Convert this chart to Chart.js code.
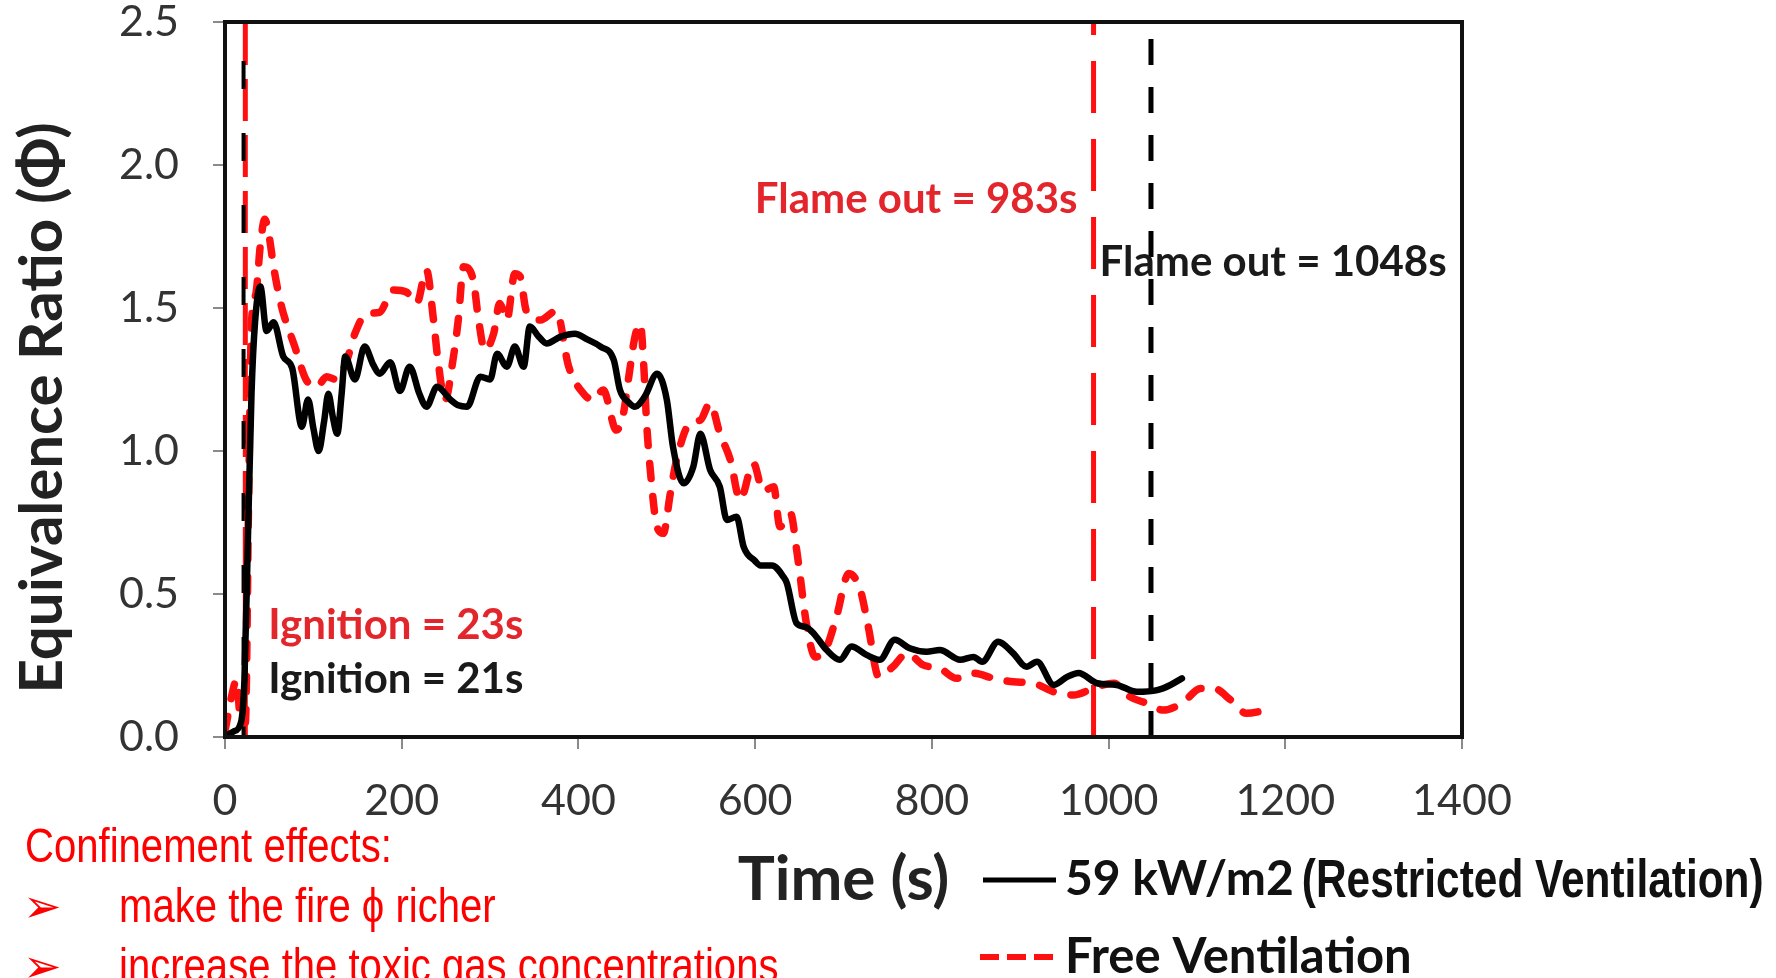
<!DOCTYPE html>
<html>
<head>
<meta charset="utf-8">
<script src="https://cdn.jsdelivr.net/npm/chart.js@4.4.1/dist/chart.umd.min.js"></script>
<style>
html,body{margin:0;padding:0;background:#fff;overflow:hidden}
#wrap{position:relative;width:1776px;height:978px;overflow:hidden}
#c{position:absolute;left:0;top:0}
.note{position:absolute;color:#ff0000;font-family:"Liberation Sans",Arial,sans-serif;font-size:48px;line-height:48px;white-space:nowrap;transform:scaleX(0.835);transform-origin:0 0}
.arrow{position:absolute;color:#ff0000;font-family:"DejaVu Sans",sans-serif;font-size:46px;line-height:46px}
</style>
</head>
<body>
<div id="wrap">
<canvas id="c" width="1776" height="978"></canvas>
<div class="note" style="left:25px;top:822px">Confinement effects:</div>
<div class="arrow" style="left:23px;top:883px">➢</div>
<div class="note" style="left:119px;top:882px">make the fire ϕ richer</div>
<div class="arrow" style="left:23px;top:943px">➢</div>
<div class="note" style="left:119px;top:942px">increase the toxic gas concentrations</div>
</div>
<script>
// ---- data ----
const restrictedTime = [0,10,18,22,26,30,34,40,47,55,66,76,87,94,100,106,112,117,122,127,132,136,147,158,168,175,187,198,209,220,228,240,255,264,274,289,300,308,319,328,338,345,355,364,380,396,410,425,440,447,457,464,475,489,500,507,519,530,538,549,560,568,579,587,600,606,619,632,636,647,657,666,681,696,709,726,741,758,775,794,809,832,847,857,875,892,907,919,938,953,966,987,1009,1032,1055,1070,1083];
const restrictedPhi  = [0,0.02,0.05,0.2,0.7,1.2,1.45,1.575,1.42,1.45,1.33,1.29,1.085,1.18,1.08,1.0,1.1,1.2,1.12,1.06,1.2,1.33,1.25,1.365,1.3,1.27,1.31,1.21,1.295,1.2,1.155,1.225,1.18,1.16,1.155,1.26,1.25,1.34,1.295,1.365,1.295,1.435,1.40,1.376,1.40,1.41,1.39,1.365,1.318,1.213,1.17,1.155,1.19,1.27,1.18,1.015,0.887,0.945,1.06,0.934,0.875,0.759,0.77,0.665,0.615,0.6,0.6,0.56,0.537,0.397,0.385,0.363,0.304,0.27,0.316,0.287,0.27,0.34,0.31,0.298,0.304,0.27,0.28,0.263,0.333,0.293,0.246,0.263,0.182,0.21,0.224,0.188,0.182,0.158,0.164,0.182,0.205];

const freeTime = [0,8,13,18,23,27,30,35,40,45,50,55,64,79,92,104,115,126,138,147,160,175,190,205,217,228,236,241,249,258,264,270,281,287,294,304,311,319,328,334,341,357,375,389,406,417,428,443,451,457,464,470,474,477,481,489,496,504,511,526,538,549,560,572,583,598,609,621,628,640,647,651,658,668,681,692,706,719,728,740,756,772,790,809,828,847,870,892,915,938,960,987,1006,1024,1043,1062,1085,1104,1119,1138,1156,1179];
const freePhi  = [0.02,0.15,0.2,0.05,0.05,0.9,1.45,1.55,1.72,1.81,1.75,1.644,1.505,1.365,1.248,1.225,1.26,1.25,1.318,1.41,1.48,1.485,1.563,1.556,1.516,1.633,1.458,1.318,1.178,1.318,1.458,1.644,1.598,1.458,1.353,1.41,1.516,1.458,1.62,1.61,1.49,1.458,1.49,1.295,1.2,1.178,1.213,1.073,1.132,1.26,1.40,1.446,1.295,1.108,0.945,0.735,0.712,0.852,0.968,1.097,1.108,1.167,1.062,0.968,0.829,0.957,0.86,0.875,0.735,0.782,0.654,0.56,0.397,0.28,0.316,0.42,0.572,0.514,0.386,0.21,0.246,0.293,0.252,0.24,0.205,0.223,0.205,0.193,0.188,0.158,0.147,0.176,0.188,0.141,0.118,0.094,0.123,0.17,0.17,0.13,0.083,0.094];

const ignitionFree = 23;
const ignitionRestricted = 21;
const flameOutFree = 983;
const flameOutRestricted = 1048;
const phiRange = [0, 2.5];

const xTicks = [0,200,400,600,800,1000,1200,1400];
const yTicks = [0,0.5,1.0,1.5,2.0,2.5];

const seriesNames = ['59 kW/m2', 'Free Ventilation'];

// ---- helpers ----
const pts = (t, v) => t.map((ti, i) => ({x: ti, y: v[i]}));
const vline = (t) => phiRange.map(p => ({x: t, y: p}));

const RED = '#ff1010';
const BLACK = '#000000';

const decor = {
  id: 'decor',
  afterDatasetsDraw(chart) {
    const {ctx, chartArea: a, scales: {x, y}} = chart;
    ctx.save();
    ctx.strokeStyle = '#111';
    ctx.lineWidth = 4;
    ctx.strokeRect(a.left, a.top, a.right - a.left, a.bottom - a.top);
    ctx.font = 'bold 42px Lato';
    ctx.textBaseline = 'middle';
    ctx.fillStyle = '#e3262c';
    ctx.textAlign = 'right';
    ctx.fillText('Flame out = 983s', x.getPixelForValue(flameOutFree) - 16, y.getPixelForValue(1.88));
    ctx.fillStyle = '#1a1a1a';
    ctx.textAlign = 'left';
    ctx.fillText('Flame out = 1048s', x.getPixelForValue(flameOutFree) + 6, y.getPixelForValue(1.66));
    ctx.fillStyle = '#e3262c';
    ctx.fillText('Ignition = 23s', x.getPixelForValue(ignitionFree) + 23, y.getPixelForValue(0.39));
    ctx.fillStyle = '#1a1a1a';
    ctx.fillText('Ignition = 21s', x.getPixelForValue(ignitionFree) + 23, y.getPixelForValue(0.2));
    ctx.restore();
  },
  afterDraw(chart) {
    const ctx = chart.ctx;
    ctx.save();
    ctx.translate(43, 408);
    ctx.rotate(-Math.PI / 2);
    ctx.font = 'bold 60px Lato';
    ctx.fillStyle = '#222';
    ctx.textAlign = 'center';
    ctx.textBaseline = 'middle';
    ctx.fillText('Equivalence Ratio (Φ)', 0, 0);
    ctx.restore();

    ctx.save();
    ctx.lineWidth = 5;
    ctx.strokeStyle = BLACK;
    ctx.beginPath(); ctx.moveTo(983, 880); ctx.lineTo(1056, 880); ctx.stroke();
    ctx.strokeStyle = RED;
    ctx.lineWidth = 6;
    ctx.setLineDash([19, 8]);
    ctx.beginPath(); ctx.moveTo(980, 957); ctx.lineTo(1056, 957); ctx.stroke();
    ctx.setLineDash([]);
    ctx.fillStyle = '#111';
    ctx.textBaseline = 'middle';
    ctx.textAlign = 'left';
    ctx.font = 'bold 48px Lato';
    ctx.fillText(seriesNames[0], 1065, 880);
    ctx.font = 'bold 49px Lato';
    ctx.fillText(seriesNames[1], 1065, 957);
    ctx.font = 'bold 48px Lato';
    const w = ctx.measureText(seriesNames[0]).width;
    ctx.translate(1065 + w + 8, 882);
    ctx.scale(0.80, 1);
    ctx.font = 'bold 53px "Liberation Sans", Arial, sans-serif';
    ctx.fillText('(Restricted Ventilation)', 0, 0);
    ctx.restore();
  }
};

new Chart(document.getElementById('c'), {
  type: 'line',
  data: {
    datasets: [
      {label: seriesNames[0], data: pts(restrictedTime, restrictedPhi), borderColor: BLACK, borderWidth: 6.5,
       pointRadius: 0, cubicInterpolationMode: 'monotone', borderJoinStyle: 'round', borderCapStyle: 'round', order: 0},
      {label: seriesNames[1], data: pts(freeTime, freePhi), borderColor: RED, borderWidth: 7.5,
       borderDash: [15, 18], borderCapStyle: 'round', borderJoinStyle: 'round',
       pointRadius: 0, cubicInterpolationMode: 'monotone', order: 1},
      {label: 'flameOutFree', data: vline(flameOutFree), borderColor: RED, borderWidth: 5, borderDash: [52, 26], pointRadius: 0, order: 2},
      {label: 'flameOutRestricted', data: vline(flameOutRestricted), borderColor: BLACK, borderWidth: 5, borderDash: [26, 22], pointRadius: 0, order: 2},
      {label: 'ignitionRestricted', data: vline(ignitionRestricted), borderColor: BLACK, borderWidth: 4, borderDash: [28, 44], pointRadius: 0, order: 3},
      {label: 'ignitionFree', data: vline(ignitionFree), borderColor: RED, borderWidth: 5, borderDash: [42, 14], pointRadius: 0, order: 4}
    ]
  },
  options: {
    responsive: false,
    animation: false,
    devicePixelRatio: 1,
    layout: {padding: {left: 0, top: 22, right: 314, bottom: 0}},
    plugins: {legend: {display: false}, tooltip: {enabled: false}},
    scales: {
      x: {
        type: 'linear', min: xTicks[0], max: xTicks[xTicks.length - 1],
        afterBuildTicks: (s) => { s.ticks = xTicks.map(v => ({value: v})); },
        afterFit: (s) => { s.height = 241; s.paddingLeft = 0; s.paddingRight = 0; },
        ticks: {font: {family: 'Lato', size: 43}, color: '#333', padding: 26, maxRotation: 0, callback: (v) => String(v)},
        grid: {drawOnChartArea: false, drawTicks: true, tickLength: 12, color: '#8a8a8a', lineWidth: 2},
        border: {display: false},
        title: {display: true, text: 'Time (s)', font: {family: 'Lato', size: 62, weight: 'bold'}, color: '#222', padding: {top: 0, bottom: 61}}
      },
      y: {
        type: 'linear', min: phiRange[0], max: phiRange[1],
        afterBuildTicks: (s) => { s.ticks = yTicks.map(v => ({value: v})); },
        afterFit: (s) => { s.width = 225; s.paddingTop = 0; s.paddingBottom = 0; },
        ticks: {font: {family: 'Lato', size: 43}, color: '#333', padding: 34, callback: (v) => Number(v).toFixed(1)},
        grid: {drawOnChartArea: false, drawTicks: true, tickLength: 12, color: '#8a8a8a', lineWidth: 2},
        border: {display: false}
      }
    }
  },
  plugins: [decor]
});
</script>
</body>
</html>
